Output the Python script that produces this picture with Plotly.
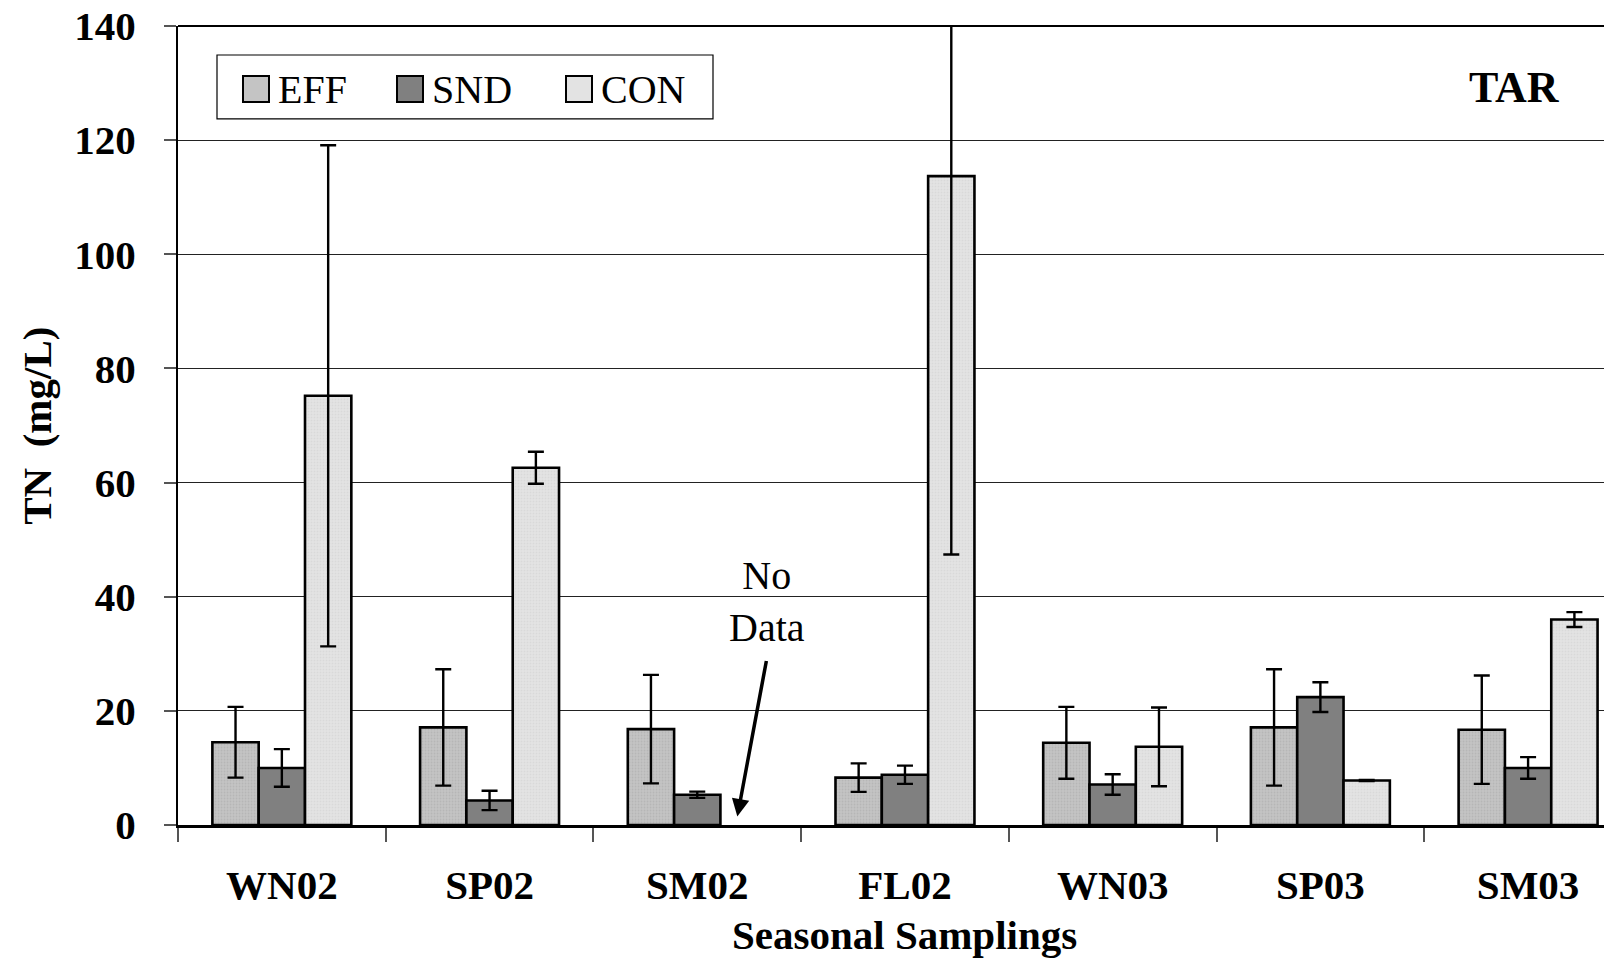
import plotly.graph_objects as go

categories = ["WN02", "SP02", "SM02", "FL02", "WN03", "SP03", "SM03"]
series_names = ["EFF", "SND", "CON"]

eff_values = [14.5, 17.1, 16.8, 8.3, 14.4, 17.1, 16.7]
eff_errors = [6.2, 10.2, 9.5, 2.5, 6.3, 10.2, 9.5]
snd_values = [10.0, 4.3, 5.3, 8.8, 7.1, 22.4, 10.0]
snd_errors = [3.3, 1.7, 0.55, 1.6, 1.8, 2.6, 1.9]
con_values = [75.2, 62.6, None, 113.7, 13.7, 7.8, 36.0]
con_errors = [43.9, 2.8, None, 66.3, 6.9, 0.1, 1.3]

y_ticks = [0, 20, 40, 60, 80, 100, 120, 140]
x_title = "Seasonal Samplings"
y_title = "TN  (mg/L)"
panel_label = "TAR"
no_data_text = "No<br>Data"

FONT = "Liberation Serif, Times New Roman, serif"
fills = {"EFF": "#c4c4c4", "SND": "#808080", "CON": "#e3e3e3"}
dots = {"EFF": "#a8a8a8", "SND": "#808080", "CON": "#cfcfcf"}

fig = go.Figure()
for name, vals, errs in [("EFF", eff_values, eff_errors),
                         ("SND", snd_values, snd_errors),
                         ("CON", con_values, con_errors)]:
    marker = dict(color=fills[name], line=dict(color="black", width=2.6))
    if name != "SND":
        marker["pattern"] = dict(shape=".", size=3, solidity=0.3,
                                 fgcolor=dots[name], bgcolor=fills[name])
    fig.add_trace(go.Bar(
        name=name, x=categories, y=vals, marker=marker,
        error_y=dict(type="data", array=errs, visible=True,
                     color="black", thickness=2.4, width=8),
        showlegend=False, cliponaxis=False,
    ))

# the page body adds an 8px offset; margins compensate so the plot lands
# at screen x 178..1612, y 26..825.5
fig.update_layout(
    width=1612, height=960,
    margin=dict(l=170, r=8, t=18, b=142.5, autoexpand=False),
    paper_bgcolor="white", plot_bgcolor="white",
    barmode="group", bargap=0.331, bargroupgap=0,
    font=dict(family=FONT, color="black"),
)

fig.update_xaxes(
    type="category", range=[-0.5, 6.404], automargin=False,
    showline=True, linecolor="black", linewidth=3,
    ticks="outside", tickson="boundaries", ticklen=14, tickcolor="#555", tickwidth=1.5,
    tickfont=dict(family=FONT, size=41, color="black", weight="bold"),
    ticklabelstandoff=22, ticklabeloverflow="allow",
    showgrid=False,
)
fig.update_yaxes(
    range=[0, 140], tickvals=y_ticks, automargin=False,
    showline=True, linecolor="black", linewidth=2,
    ticks="outside", ticklen=12, tickcolor="#555", tickwidth=1.5,
    tickfont=dict(family=FONT, size=41, color="black", weight="bold"),
    ticklabelstandoff=20, ticklabeloverflow="allow",
    showgrid=True, gridcolor="#222", gridwidth=1.2,
    zeroline=False,
)

W, H = 1434.0, 799.5
def px(xp):
    return (xp - 178) / W
def py(yp):
    return (825.5 - yp) / H

# axis titles
fig.add_annotation(xref="paper", yref="paper", x=px(904), y=py(936),
                   text="<b>" + x_title + "</b>", showarrow=False,
                   xanchor="center", yanchor="middle",
                   font=dict(family=FONT, size=41, color="black"))
fig.add_annotation(xref="paper", yref="paper", x=px(37), y=py(426),
                   text="<b>" + y_title + "</b>", showarrow=False, textangle=-90,
                   xanchor="center", yanchor="middle",
                   font=dict(family=FONT, size=41, color="black"))

# top frame line
fig.add_shape(type="line", xref="paper", yref="paper", x0=0, x1=1, y0=1, y1=1,
              line=dict(color="black", width=2))

# custom legend
fig.add_shape(type="rect", xref="paper", yref="paper",
              x0=px(217), x1=px(713), y0=py(119), y1=py(55),
              line=dict(color="black", width=1.2), fillcolor="white")
sym_x = [243, 397, 566]
for name, sx in zip(series_names, sym_x):
    fig.add_shape(type="rect", xref="paper", yref="paper",
                  x0=px(sx), x1=px(sx + 26), y0=py(102), y1=py(76),
                  line=dict(color="black", width=2), fillcolor=fills[name])
    fig.add_annotation(xref="paper", yref="paper", x=px(sx + 33), y=py(90),
                       text=name, showarrow=False, xanchor="left", yanchor="middle",
                       font=dict(family=FONT, size=40, color="black"))

fig.add_annotation(xref="paper", yref="paper", x=px(1514), y=py(88),
                   text="<b>" + panel_label + "</b>", showarrow=False,
                   xanchor="center", yanchor="middle",
                   font=dict(family=FONT, size=44, color="black"))

fig.add_annotation(x=2.334, y=39.1, xref="x", yref="y", text=no_data_text,
                   showarrow=False, xanchor="center", yanchor="middle",
                   font=dict(family=FONT, size=40, color="black"))
fig.add_annotation(x=2.193, y=1.5, xref="x", yref="y", ax=2.334, ay=29.0,
                   axref="x", ayref="y", text="", showarrow=True,
                   arrowhead=2, arrowsize=1, arrowwidth=3.5, arrowcolor="black")

fig.write_html("out.html")
